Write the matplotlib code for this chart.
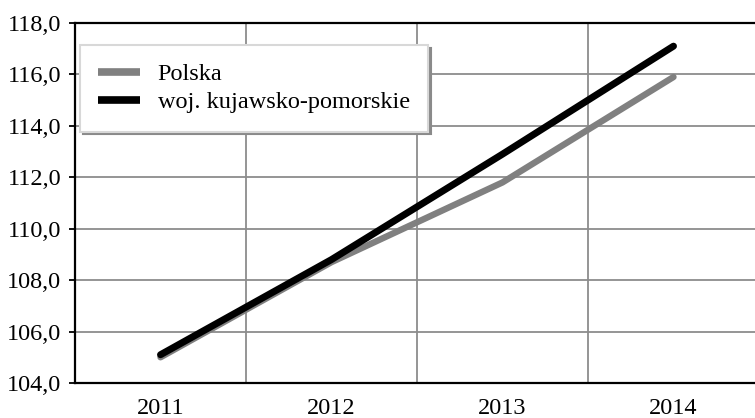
import matplotlib
matplotlib.use("Agg")
import matplotlib.pyplot as plt
from matplotlib.ticker import FuncFormatter, FixedLocator

years = ["2011", "2012", "2013", "2014"]
polska = [105.0, 108.7, 111.8, 115.9]
kujawsko = [105.1, 108.8, 112.9, 117.1]
labels = ["Polska", "woj. kujawsko-pomorskie"]

plt.rcParams['font.family'] = ['Liberation Serif', 'DejaVu Serif']

W, H = 755, 418
fig = plt.figure(figsize=(W / 100, H / 100), dpi=100)
ax = fig.add_axes([75 / W, (H - 383) / H, (759 - 75) / W, (383 - 23) / H])

x = list(range(len(years)))
ax.plot(x, polska, color='#808080', lw=4.6, solid_capstyle='round', label=labels[0], zorder=3)
ax.plot(x, kujawsko, color='#000000', lw=5.0, solid_capstyle='round', label=labels[1], zorder=4)

ax.set_xlim(-0.5, 3.5)
ax.set_ylim(104, 118)
ax.set_yticks([104, 106, 108, 110, 112, 114, 116, 118])
ax.yaxis.set_major_formatter(FuncFormatter(lambda v, p: f"{v:.1f}".replace('.', ',')))
ax.set_xticks(x)
ax.set_xticklabels(years)
ax.xaxis.set_minor_locator(FixedLocator([0.5, 1.5, 2.5]))

ax.grid(axis='y', which='major', color='#8c8c8c', lw=1.3, zorder=1)
ax.grid(axis='x', which='minor', color='#8c8c8c', lw=1.3, zorder=1)
ax.tick_params(axis='x', which='both', length=0, pad=11, labelsize=17.5)
ax.tick_params(axis='y', which='major', length=4, width=1.3, direction='out', pad=6, labelsize=17.5)

for s in ['left', 'bottom', 'top']:
    ax.spines[s].set_color('black')
    ax.spines[s].set_linewidth(1.6)
ax.spines['right'].set_visible(False)

leg = ax.legend(loc='upper left', bbox_to_anchor=(80 / W, (H - 45) / H),
                bbox_transform=fig.transFigure, fontsize=17.5, frameon=True,
                fancybox=False, shadow={'color': '#8a8a8a', 'alpha': 1.0},
                handlelength=1.7, handletextpad=0.75, labelspacing=0.25,
                borderpad=0.75, borderaxespad=0)
leg.get_frame().set_edgecolor('#d8d8d8')
leg.get_frame().set_linewidth(1.5)
leg.get_frame().set_facecolor('white')
for lh in leg.get_lines():
    lh.set_solid_capstyle('butt')
    lh.set_linewidth(5.5)

fig.savefig("out.png", dpi=100)
